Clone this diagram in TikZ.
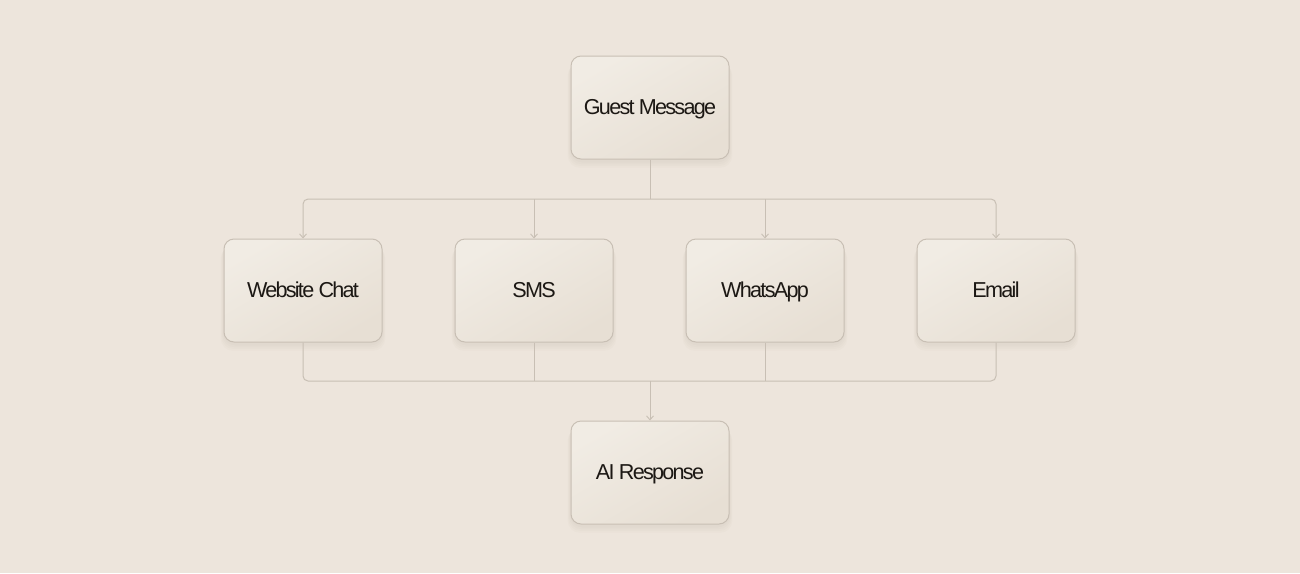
\documentclass[tikz,border=0pt]{standalone}
\usepackage{fontspec}
\setmainfont{Liberation Sans}[LetterSpace=-8]
\usetikzlibrary{arrows.meta}
\definecolor{bg}{HTML}{EDE5DC}
\definecolor{boxA}{HTML}{F1ECE4}
\definecolor{boxB}{HTML}{E7DFD4}
\definecolor{edge}{HTML}{C8BFB4}
\definecolor{ink}{HTML}{1C1814}
\definecolor{shadowc}{HTML}{A89C8C}
\tikzset{
  x=1pt,y=-1pt,
  chan/.style={minimum width=158pt,minimum height=103pt,inner sep=0pt,
    rounded corners=10pt,draw=edge,line width=1pt,
    top color=boxA,bottom color=boxB,shading angle=30,
    text=ink,font=\fontsize{21.6}{24}\selectfont,
    text height=15.5pt,text depth=2pt},
  conn/.style={draw=edge,line width=1pt,rounded corners=5pt},
  arr/.style={conn,-{Straight Barb[length=4pt,width=7pt,line width=0.9pt]}},
  soft/.style={fill=shadowc,fill opacity=0.04,rounded corners=12pt,draw=none}
}
\begin{document}
\begin{tikzpicture}
\fill[bg] (0,0) rectangle (1300,573);
\useasboundingbox (0,0) rectangle (1300,573);
% shadows
\foreach \cx/\cy in {650/107.5,303/290.5,534/290.5,765/290.5,996/290.5,650/472.5}{
  \foreach \g in {2,4,6,8}{
    \fill[soft] (\cx-79-\g*0.4,\cy-49+\g*0.6) rectangle (\cx+79+\g*0.4,\cy+53+\g*0.9);
  }
}
\node[chan] (guest) at (650,107.5) {Guest Message};
\node[chan] (web) at (303,290.5) {Website Chat};
\node[chan] (sms) at (534,290.5) {SMS};
\node[chan] (wa) at (765,290.5) {WhatsApp};
\node[chan] (mail) at (996,290.5) {Email};
\node[chan] (ai) at (650,472.5) {AI Response};
\coordinate (bt) at (650,199);
\coordinate (bb) at (650,381);
\draw[conn] (guest.south) -- (bt);
\draw[arr] (bt) -| (web.north);
\draw[arr] (bt) -| (mail.north);
\draw[arr,rounded corners=0pt] (bt -| sms.north) -- (sms.north);
\draw[arr,rounded corners=0pt] (bt -| wa.north) -- (wa.north);
\draw[conn] (web.south) |- (bb);
\draw[conn] (mail.south) |- (bb);
\draw[conn] (sms.south) -- (bb -| sms.south);
\draw[conn] (wa.south) -- (bb -| wa.south);
\draw[arr] (bb) -- (ai.north);
\end{tikzpicture}
\end{document}
